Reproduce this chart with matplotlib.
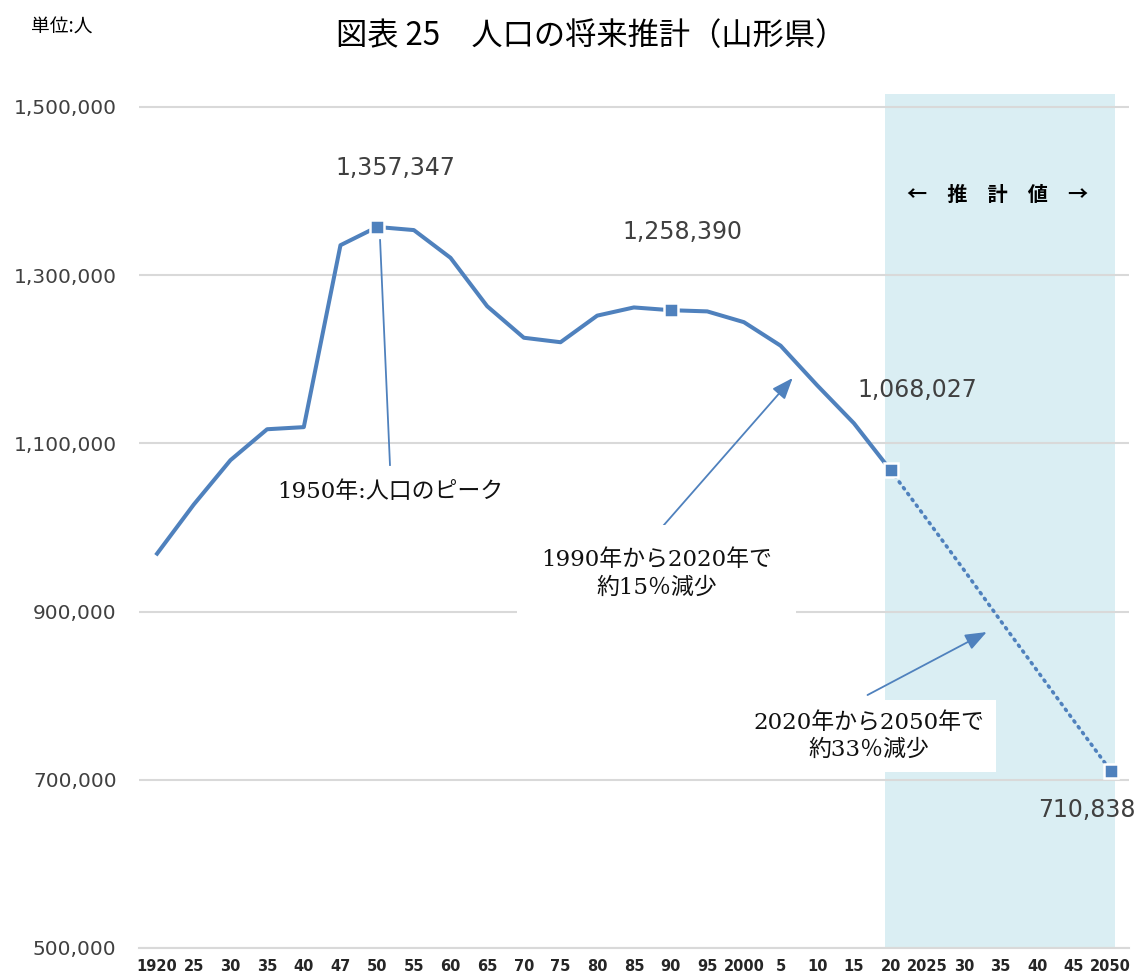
import matplotlib
matplotlib.use("Agg")
import matplotlib.pyplot as plt
from matplotlib.ticker import FuncFormatter

plt.rcParams['font.family'] = ['Noto Sans CJK JP', 'DejaVu Sans']

# data
years = ['1920', '25', '30', '35', '40', '47', '50', '55', '60', '65', '70', '75', '80',
         '85', '90', '95', '2000', '5', '10', '15', '20', '2025', '30', '35', '40', '45', '2050']
pop_actual = [968925, 1027297, 1080034, 1116822, 1119338, 1335653, 1357347, 1353649,
              1320664, 1263103, 1225618, 1220302, 1251917, 1261662, 1258390, 1256958,
              1244147, 1216181, 1168924, 1123891, 1068027]
pop_proj = [1068027, 1009000, 949500, 889000, 829500, 770000, 710838]
marked = [6, 14, 20, 26]   # 1950, 1990, 2020, 2050

blue = '#4F81BD'
num_font = ['DejaVu Sans', 'Noto Sans CJK JP']
note_font = ['DejaVu Serif', 'Noto Sans CJK JP']

n_act = len(pop_actual)
x_act = list(range(n_act))
x_proj = list(range(n_act - 1, n_act - 1 + len(pop_proj)))
allpop = pop_actual + pop_proj[1:]

fig = plt.figure(figsize=(11.41, 9.74), dpi=100)
ax = fig.add_axes([0.1216, 0.0267, 0.8679, 0.8764])

# 推計値 area
ax.axvspan(19.84, 26.13, color='#DAEEF3', zorder=0, lw=0)

ax.plot(x_act, pop_actual, color=blue, lw=2.9, zorder=3, solid_joinstyle='round')
ax.plot(x_proj, pop_proj, color=blue, lw=2.6, ls=(0, (0.4, 1.6)), dash_capstyle='round', zorder=3)
ax.plot(marked, [allpop[i] for i in marked], ls='none', marker='s', ms=10.5,
        mfc=blue, mec='white', mew=1.8, zorder=4)

ax.set_xlim(-0.5, 26.5)
ax.set_ylim(500000, 1515000)
ax.set_yticks(range(500000, 1500001, 200000))
ax.yaxis.set_major_formatter(FuncFormatter(lambda v, p: f'{int(v):,}'))
for t in ax.get_yticklabels():
    t.set_fontfamily(num_font)
ax.set_xticks(range(len(years)))
ax.set_xticklabels(years, fontfamily='Liberation Sans Narrow', fontweight='bold',
                   fontsize=10.5, color='#262626')
ax.tick_params(axis='x', length=0, pad=8)
ax.tick_params(axis='y', length=0, pad=16, labelsize=14.5, labelcolor='#404040')
ax.grid(axis='y', color='#D9D9D9', lw=1.5, zorder=1)
ax.set_axisbelow(True)
for s in ['top', 'right', 'left']:
    ax.spines[s].set_visible(False)
ax.spines['bottom'].set_color('#D9D9D9')
ax.spines['bottom'].set_linewidth(1.5)

# data labels
lab = dict(fontsize=17, color='#404040', ha='center', va='center', zorder=5, family=num_font)
ax.text(6.49, 1427500, f'{pop_actual[6]:,}', **lab)
ax.text(14.33, 1351400, f'{pop_actual[14]:,}', **lab)
ax.text(20.74, 1163500, f'{pop_actual[20]:,}', **lab)
ax.text(25.34, 664000, f'{pop_proj[-1]:,}', **lab)

# annotations
note = dict(fontsize=16.5, color='#111111', ha='center', va='center', family=note_font)
arrow = dict(arrowstyle='-|>,head_length=1.3,head_width=0.5', color=blue, lw=1.3,
             shrinkA=0, shrinkB=0)
ax.plot([6.08, 6.35], [1341800, 1074300], color=blue, lw=1.3, zorder=3)
ax.text(6.35, 1042200, '1950年:人口のピーク', zorder=5, **note)

ax.annotate('', xy=(17.33, 1177800), xytext=(13.7, 997000), arrowprops=arrow, zorder=5)
ax.text(13.62, 944700, '1990年から2020年で\n約15％減少', linespacing=1.3, zorder=6,
        bbox=dict(boxstyle='square,pad=1.05', fc='white', ec='none'), **note)

ax.annotate('', xy=(22.62, 875700), xytext=(19.37, 800800), arrowprops=arrow, zorder=5)
ax.text(19.40, 752000, '2020年から2050年で\n約33％減少', linespacing=1.3, zorder=6,
        bbox=dict(boxstyle='square,pad=0.5', fc='white', ec='none'), **note)

ax.text(22.92, 1395400, '←　推　計　値　→', fontsize=14.5, fontweight='bold',
        color='black', ha='center', va='center', zorder=5)

fig.text(0.518, 0.963, '図表 25　人口の将来推計（山形県）', fontsize=22.5, ha='center', va='center')
fig.text(0.027, 0.972, '単位:人', fontsize=13.5, ha='left', va='center')

fig.savefig('out.png', dpi=100)
